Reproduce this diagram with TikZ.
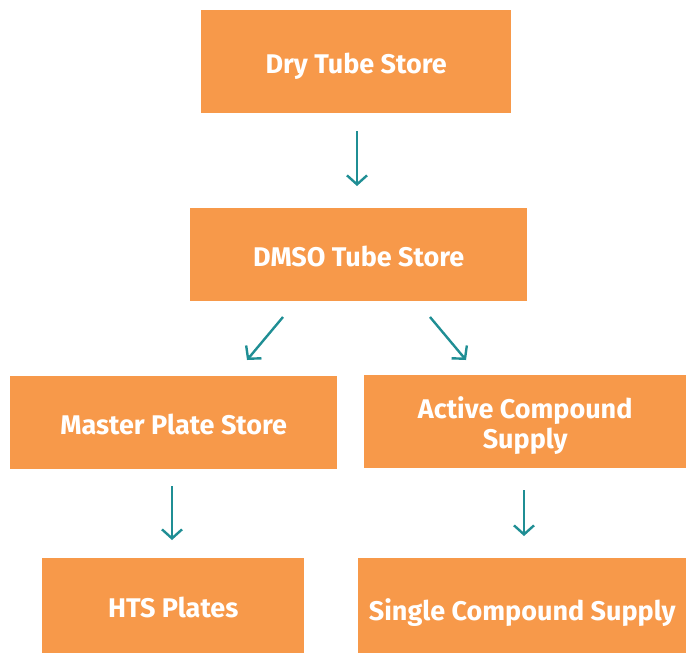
\documentclass[tikz,border=0pt]{standalone}
\usepackage{fontspec}
\setmainfont{Fira Sans}
\usetikzlibrary{arrows.meta}
\definecolor{boxorange}{HTML}{F7994A}
\definecolor{arrowteal}{HTML}{1F8E94}
\tikzset{
  flowbox/.style={fill=boxorange, draw=none, text=white, font=\bfseries\fontsize{27}{30}\selectfont, align=center, inner sep=0pt, anchor=north west, text height=24pt, text depth=0pt},
  flowarrow/.style={draw=arrowteal, line width=2.4pt, -{Straight Barb[length=9pt,width=20pt,line width=2.4pt]}}
}
\begin{document}
\begin{tikzpicture}[x=1pt,y=-1pt]
\useasboundingbox (0,0) rectangle (687,654);
\node[flowbox, minimum width=310pt, minimum height=103pt] (dry) at (201,10) {Dry Tube Store};
\node[flowbox, minimum width=337pt, minimum height=93pt] (dmso) at (190,208) {DMSO Tube Store};
\node[flowbox, minimum width=327pt, minimum height=93pt] (master) at (10,376) {Master Plate Store};
\node[flowbox, minimum width=322pt, minimum height=93pt, text height=54pt] (active) at (364,375) {Active Compound\\Supply};
\node[flowbox, minimum width=262pt, minimum height=95pt] (hts) at (42,558) {HTS Plates};
\node[flowbox, minimum width=328pt, minimum height=95pt, text height=29pt] (single) at (358,558) {Single Compound Supply};
\coordinate (a1s) at (357,131); \coordinate (a1e) at (357,186);
\coordinate (a2s) at (283,317); \coordinate (a2e) at (247,360);
\coordinate (a3s) at (430,317); \coordinate (a3e) at (466,360);
\coordinate (a4s) at (172,486); \coordinate (a4e) at (172,540);
\coordinate (a5s) at (524,490); \coordinate (a5e) at (524,536);
\draw[flowarrow] (a1s) -- (a1e);
\draw[flowarrow] (a2s) -- (a2e);
\draw[flowarrow] (a3s) -- (a3e);
\draw[flowarrow] (a4s) -- (a4e);
\draw[flowarrow] (a5s) -- (a5e);
\end{tikzpicture}
\end{document}
